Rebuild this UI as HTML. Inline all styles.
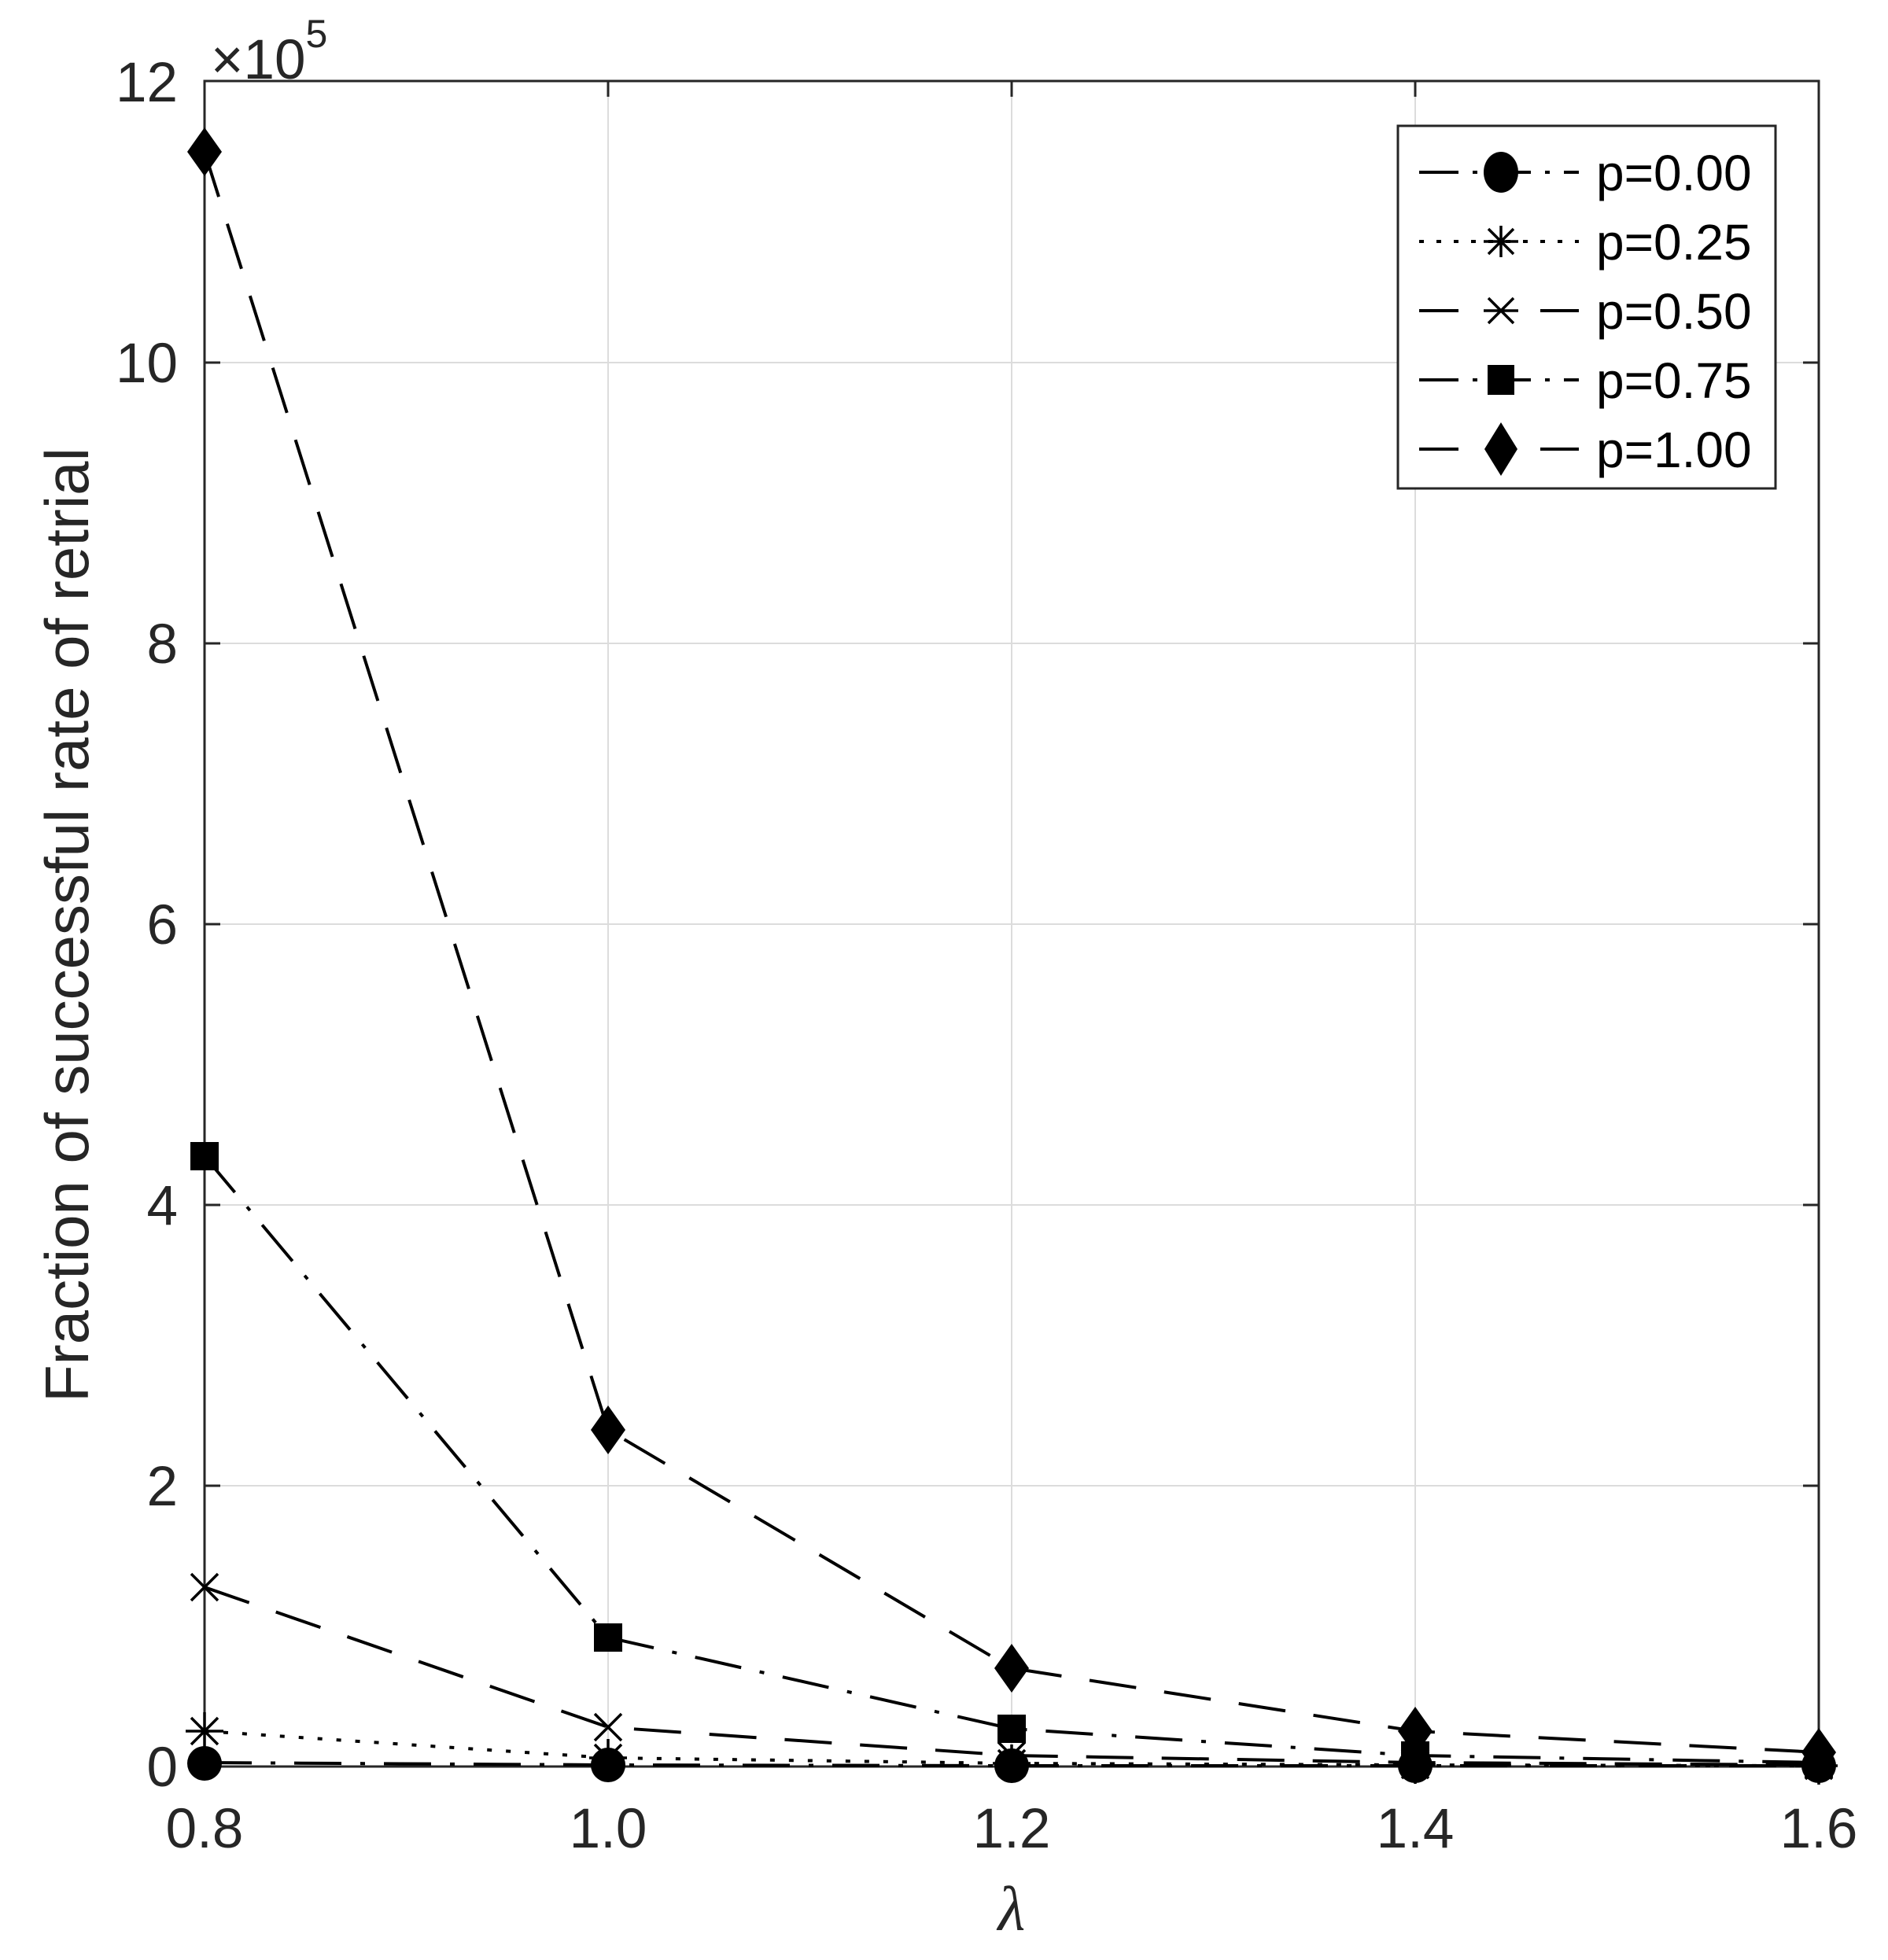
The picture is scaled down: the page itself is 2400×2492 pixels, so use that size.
<!DOCTYPE html>
<html><head><meta charset="utf-8"><style>html,body{margin:0;padding:0;background:#fff}svg{display:block}</style></head>
<body>
<svg width="2400" height="2492" viewBox="0 0 2400 2492" xmlns="http://www.w3.org/2000/svg" font-family="Liberation Sans, Arial, sans-serif">
<rect width="2400" height="2492" fill="#fff"/>
<g stroke="#dcdcdc" stroke-width="2">
<line x1="773" y1="103" x2="773" y2="2246"/>
<line x1="1286" y1="103" x2="1286" y2="2246"/>
<line x1="1799" y1="103" x2="1799" y2="2246"/>
<line x1="260" y1="1889" x2="2312" y2="1889"/>
<line x1="260" y1="1532" x2="2312" y2="1532"/>
<line x1="260" y1="1175" x2="2312" y2="1175"/>
<line x1="260" y1="818" x2="2312" y2="818"/>
<line x1="260" y1="461" x2="2312" y2="461"/>
</g>
<g stroke="#262626" stroke-width="3">
<path d="M773 2246v-20M1286 2246v-20M1799 2246v-20M773 103v20M1286 103v20M1799 103v20"/>
<path d="M260 1889h20M260 1532h20M260 1175h20M260 818h20M260 461h20M2312 1889h-20M2312 1532h-20M2312 1175h-20M2312 818h-20M2312 461h-20"/>
<rect x="260" y="103" width="2052" height="2143" fill="none"/>
</g>
<g font-size="71" fill="#262626" text-anchor="middle">
<text x="260" y="2349">0.8</text>
<text x="773" y="2349">1.0</text>
<text x="1286" y="2349">1.2</text>
<text x="1799" y="2349">1.4</text>
<text x="2312" y="2349">1.6</text>
</g>
<g font-size="71" fill="#262626" text-anchor="end">
<text x="226" y="2271">0</text>
<text x="226" y="1914">2</text>
<text x="226" y="1557">4</text>
<text x="226" y="1200">6</text>
<text x="226" y="843">8</text>
<text x="226" y="486">10</text>
<text x="226" y="129">12</text>
</g>
<text x="268" y="100" font-size="71" fill="#262626">×10<tspan font-size="50" dy="-40">5</tspan></text>
<text x="1286" y="2454" font-size="80" font-style="italic" fill="#262626" text-anchor="middle" font-family="Liberation Serif, serif">λ</text>
<text transform="translate(112,1176) rotate(-90)" font-size="78" fill="#262626" text-anchor="middle">Fraction of successful rate of retrial</text>
<g fill="none" stroke="#000" stroke-width="4">
<polyline points="260,2241 773,2244 1286,2245 1799,2245 2312,2245" stroke-dasharray="60,24,6,24"/>
<polyline points="260,2201 773,2235 1286,2242 1799,2244 2312,2245" stroke-dasharray="6,18"/>
<polyline points="260,2018 773,2196 1286,2232 1799,2241 2312,2244" stroke-dasharray="60,36"/>
<polyline points="260,1470 773,2082 1286,2198 1799,2232 2312,2241" stroke-dasharray="60,24,6,24"/>
<polyline points="260,193 773,1818 1286,2121 1799,2201 2312,2228" stroke-dasharray="60,36"/>
</g>
<g fill="#000" stroke="#000">
<g stroke="none">
<circle cx="260" cy="2242" r="22"/><circle cx="773" cy="2244" r="22"/><circle cx="1286" cy="2245" r="22"/><circle cx="1799" cy="2245" r="22"/><circle cx="2312" cy="2245" r="22"/>
</g>
<g stroke-width="3.5">
<path d="M236 2201h48M260 2177v48M243 2184l34 34M277 2184l-34 34"/>
<path d="M749 2235h48M773 2211v48M756 2218l34 34M790 2218l-34 34"/>
<path d="M1262 2242h48M1286 2218v48M1269 2225l34 34M1303 2225l-34 34"/>
<path d="M1775 2244h48M1799 2220v48M1782 2227l34 34M1816 2227l-34 34"/>
<path d="M2288 2245h48M2312 2221v48M2295 2228l34 34M2329 2228l-34 34"/>
<path d="M243 2001l34 34M277 2001l-34 34M756 2179l34 34M790 2179l-34 34M1269 2215l34 34M1303 2215l-34 34M1782 2224l34 34M1816 2224l-34 34M2295 2227l34 34M2329 2227l-34 34"/>
</g>
<g stroke="none">
<rect x="242" y="1452" width="36" height="36"/><rect x="755" y="2064" width="36" height="36"/><rect x="1268" y="2180" width="36" height="36"/><rect x="1781" y="2214" width="36" height="36"/><rect x="2294" y="2223" width="36" height="36"/>
<path d="M260 162l22 31-22 31-22-31z"/><path d="M773 1787l22 31-22 31-22-31z"/><path d="M1286 2090l22 31-22 31-22-31z"/><path d="M1799 2170l22 31-22 31-22-31z"/><path d="M2312 2197l22 31-22 31-22-31z"/>
</g>
</g>
<rect x="1777" y="160" width="480" height="461" fill="#fff" stroke="#262626" stroke-width="3"/>
<g fill="none" stroke="#000" stroke-width="4">
<line x1="1804" y1="219" x2="2007" y2="219" stroke-dasharray="50,18,6,18"/>
<line x1="1804" y1="307" x2="2007" y2="307" stroke-dasharray="6,16"/>
<line x1="1804" y1="395" x2="1854" y2="395"/><line x1="1958" y1="395" x2="2007" y2="395"/>
<line x1="1804" y1="483" x2="2007" y2="483" stroke-dasharray="50,18,6,18"/>
<line x1="1804" y1="571" x2="1854" y2="571"/><line x1="1958" y1="571" x2="2007" y2="571"/>
</g>
<g fill="#000" stroke="#000" stroke-width="3.5">
<ellipse cx="1908" cy="219" rx="22" ry="26" stroke="none"/>
<path d="M1886 307h44M1908 287v40M1892 291l32 32M1924 291l-32 32"/>
<path d="M1886 395h44M1892 379l32 32M1924 379l-32 32"/>
<rect x="1891" y="464" width="34" height="38" stroke="none"/>
<path d="M1908 537l21 34-21 34-21-34z" stroke="none"/>
</g>
<g font-size="64" fill="#000">
<text x="2029" y="242">p=0.00</text>
<text x="2029" y="330">p=0.25</text>
<text x="2029" y="418">p=0.50</text>
<text x="2029" y="506">p=0.75</text>
<text x="2029" y="594">p=1.00</text>
</g>
</svg>
</body></html>
